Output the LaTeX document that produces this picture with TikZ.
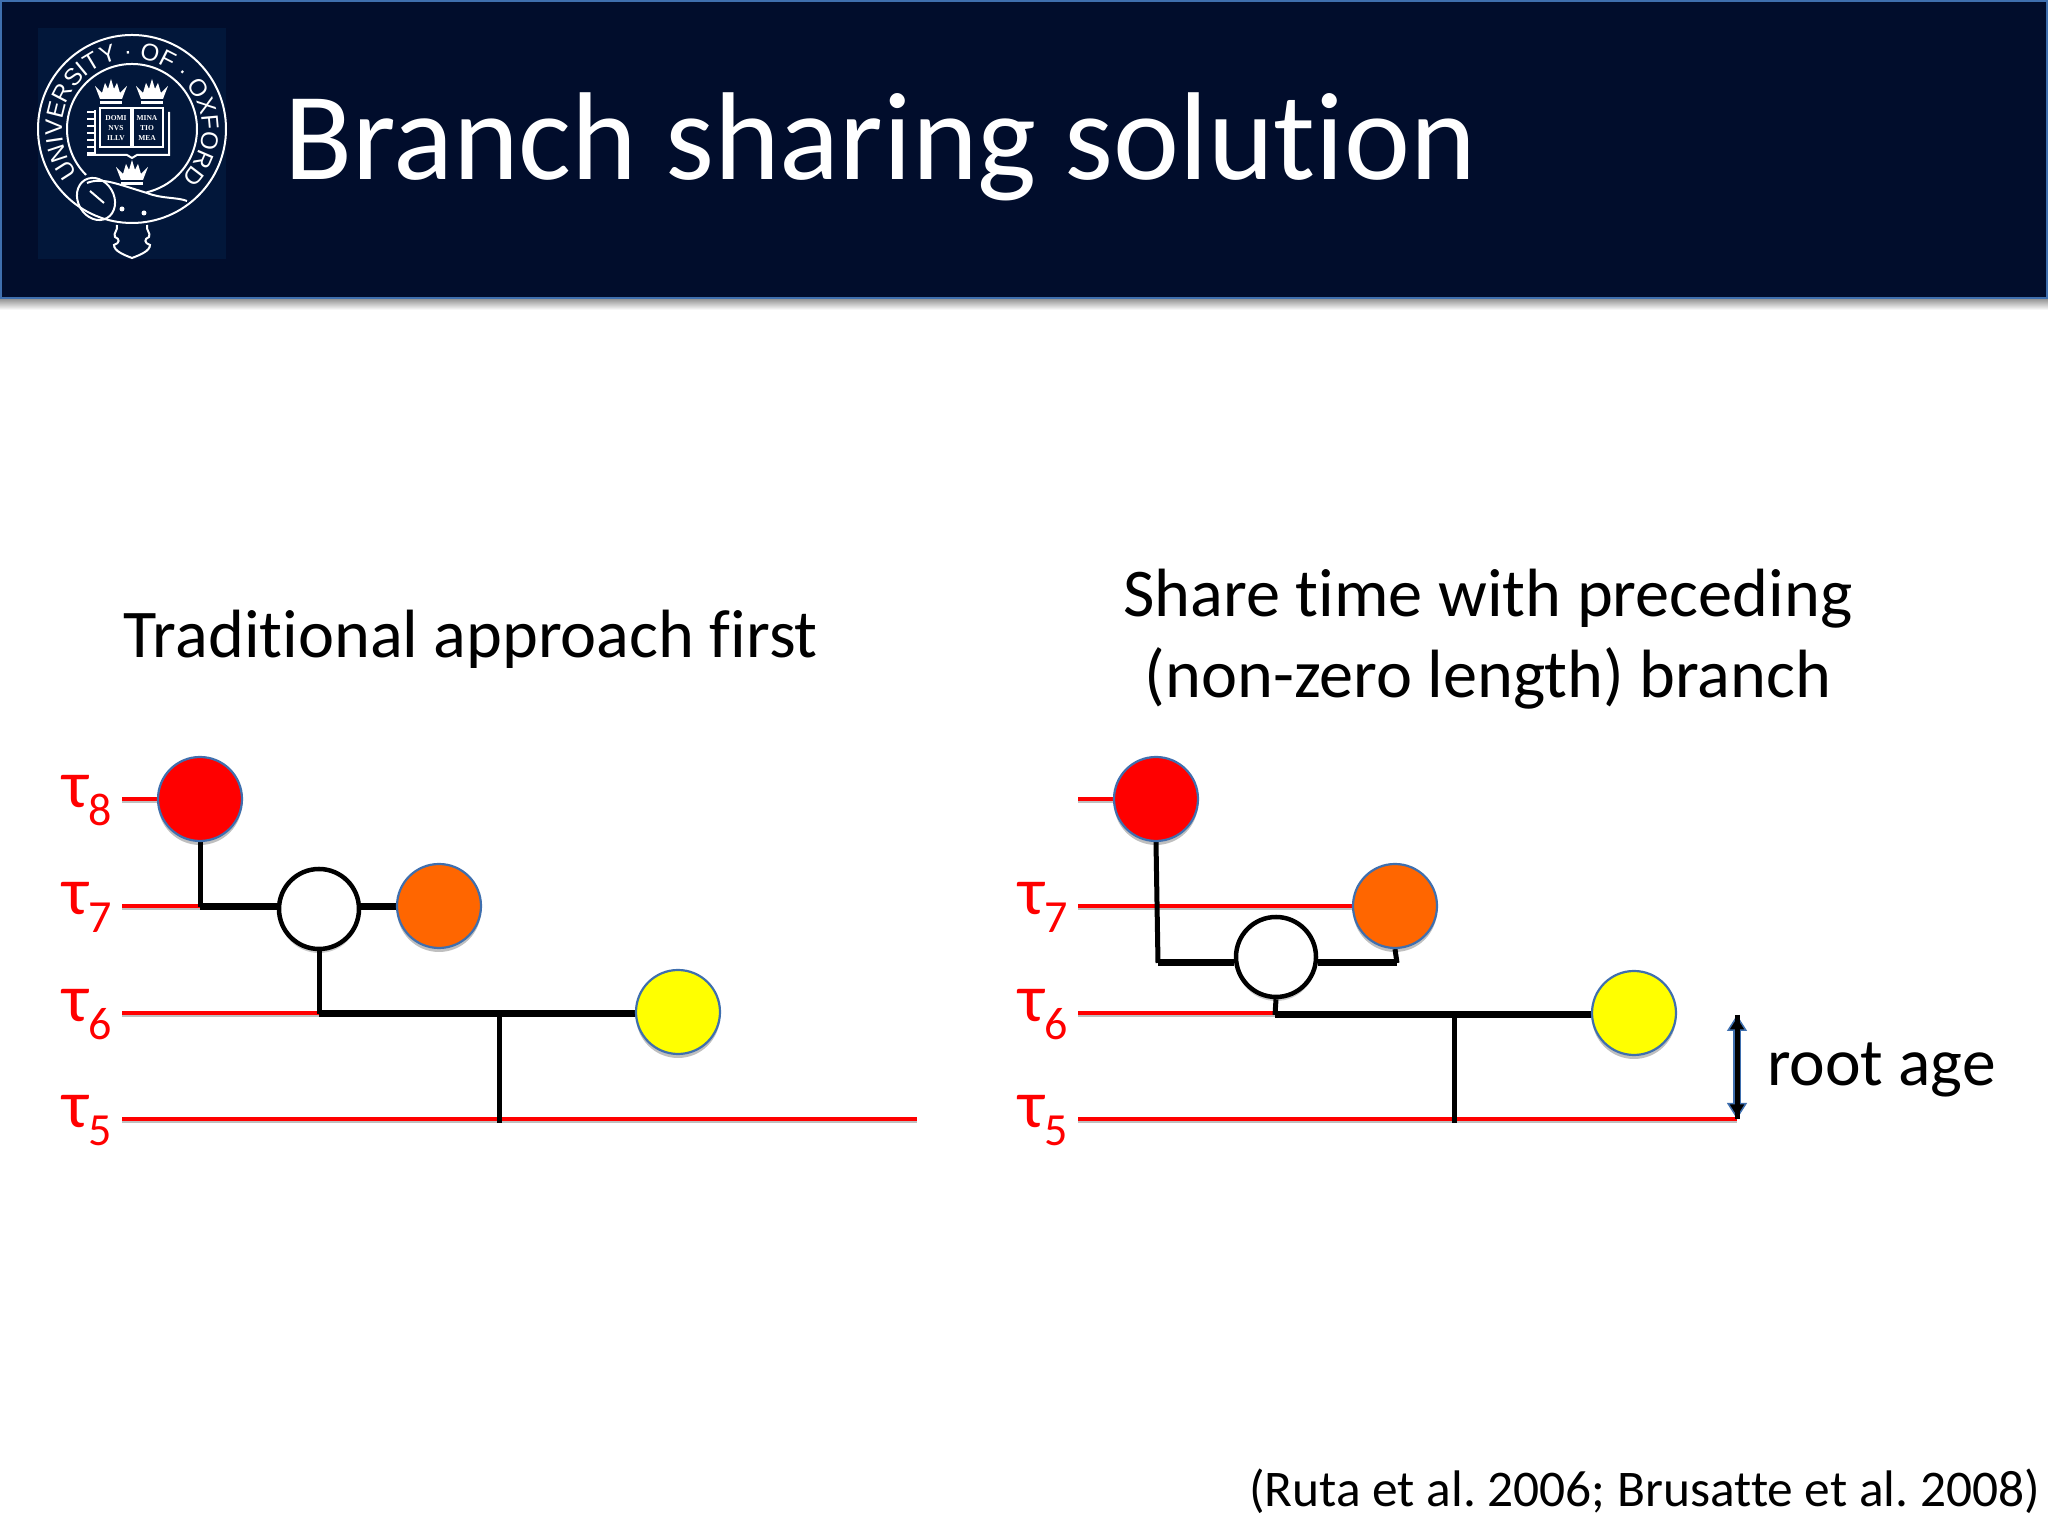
\documentclass[tikz,border=0pt]{standalone}
\usepackage{fontspec}
\setmainfont{Carlito}[RawFeature={-liga}]
\newfontfamily\logofont{Liberation Sans}
\newfontfamily\mottofont{Liberation Serif}
\usetikzlibrary{arrows.meta,backgrounds,shadows,decorations.text}
\definecolor{navy}{HTML}{010D2C}
\definecolor{logoblue}{HTML}{02173A}
\definecolor{rimblue}{HTML}{3F6FAE}
\definecolor{tauorange}{HTML}{FF6600}
\definecolor{tauyellow}{RGB}{255,255,0}
\newcommand{\fs}[1]{\fontsize{#1}{#1}\selectfont}
\newcommand{\taulab}[1]{τ\raisebox{-18pt}{\fs{46}#1}}
\tikzset{crown/.pic={
  \fill[white] (-16,6) -- (-9,-1) -- (-6,9) -- (-3,3) -- (0,13) -- (3,3) -- (6,9) -- (9,-1) -- (16,6) -- (11,-7) -- (-11,-7) -- cycle;
  \fill[white] (-11,-9) rectangle (11,-12);
}}

\begin{document}
\frenchspacing
\begin{tikzpicture}[x=1pt,y=1pt,
    tip/.style={circle,draw=rimblue,line width=2.2pt,minimum size=84pt,inner sep=0pt,
      drop shadow={shadow xshift=0pt,shadow yshift=-4pt,opacity=.25,fill=black}},
    anc/.style={circle,draw=black,line width=4.5pt,fill=white,minimum size=80pt,inner sep=0pt,
      drop shadow={shadow xshift=0pt,shadow yshift=-4pt,opacity=.2,fill=black}},
    time/.style={draw=red,line width=3.2pt,preaction={draw=black!25,line width=3pt,transform canvas={yshift=-3pt}}},
    stem/.style={draw=black,line width=5pt},
    limb/.style={draw=black,line width=7pt},
    tau/.style={red,font=\fs{68},inner sep=0pt,anchor=base east},
    head/.style={font=\fs{68.3},inner sep=0pt,align=center},
    seal/.style={white,line width=2pt},
    motto/.style={white,inner sep=0pt,font=\mottofont\bfseries\fs{7.5}}]
  \useasboundingbox (0,0) rectangle (2048,1536);

  % banner
  \shade[top color=black!45,bottom color=white] (0,1226) rectangle (2048,1238);
  \draw[fill=navy,draw=rimblue,line width=2.5pt] (1,1238) rectangle (2047,1535);
  \node[white,font=\fs{125},inner sep=0pt,anchor=base west] (title) at (284,1356) {Branch sharing solution};

  % seal
  \begin{scope}[shift={(132,1407)}]
    \fill[logoblue] (-94,-130) rectangle (94,101);
    \draw[seal] (0,0) circle (94);
    \draw[seal] (225:65) arc (225:-77:65);
    \path[decorate,decoration={text along path,text color=white,text align={center},
      text={|\logofont\fs{24}|UNIVERSITY · OF · OXFORD}}] (218:70) arc (218:-43:70);
    \pic at (-21,37) {crown};
    \pic at (20,37) {crown};
    \pic at (0,-44) {crown};
    \draw[seal] (-32,21) rectangle (-1,-18);
    \draw[seal] (1,21) rectangle (31,-18);
    \draw[seal] (-45,-26) -- (-5,-26) -- (0,-29) -- (5,-26) -- (37,-26) -- (37,17);
    \foreach \yy in {17,10,3,-4,-11,-18,-24}
      \draw[seal] (-45,\yy) -- (-36,\yy);
    \draw[seal] (-37,19) -- (-37,-26);
    \node[motto] (m1) at (-16,11) {DOMI};
    \node[motto] (m2) at (-16,1) {NVS};
    \node[motto] (m3) at (-16,-9) {ILLV};
    \node[motto] (m4) at (15,11) {MINA};
    \node[motto] (m5) at (15,1) {TIO};
    \node[motto] (m6) at (15,-9) {MEA};
    \draw[seal] (-45,-54) .. controls (-30,-48) and (-15,-55) .. (15,-64) .. controls (30,-70) and (45,-68) .. (55,-72);
    \draw[seal,rotate around={30:(-36,-70)}] (-36,-70) ellipse (18 and 22);
    \draw[seal] (-42,-62) -- (-28,-74);
    \fill[white] (-10,-80) circle (2.5);
    \fill[white] (12,-84) circle (2.5);
    \draw[seal] (-15,-96) .. controls (-14,-102) and (-19,-104) .. (-17,-108) .. controls (-12,-110) and (-12,-114) .. (-18,-116) .. controls (-18,-122) and (-8,-126) .. (0,-129)
      .. controls (8,-126) and (18,-122) .. (18,-116) .. controls (12,-114) and (12,-110) .. (17,-108) .. controls (19,-104) and (14,-102) .. (15,-96);
  \end{scope}

  % headings
  \node[head,anchor=base] (trad) at (471,878) {Traditional approach first};
  \node[head] (share) at (1488,897) {Share time with preceding\\[13pt](non-zero length) branch};
  \node[font=\fs{51.4},inner sep=0pt,anchor=base east] (cite) at (2040,29) {(Ruta et al. 2006; Brusatte et al. 2008)};

  % left tree
  \coordinate (la8) at (122,737);
  \coordinate (la7) at (122,630);
  \coordinate (la6) at (122,523);
  \coordinate (la5) at (122,417);
  \coordinate (lb5) at (917,417);
  \node[tau] (ltau8) at (112,728) {\taulab{8}};
  \node[tau] (ltau7) at (112,621) {\taulab{7}};
  \node[tau] (ltau6) at (112,514) {\taulab{6}};
  \node[tau] (ltau5) at (112,408) {\taulab{5}};
  \node[tip,fill=red] (lred) at (200,737) {};
  \node[anc] (lanc) at (319,627) {};
  \node[tip,fill=tauorange] (lorange) at (439,630) {};
  \node[tip,fill=tauyellow] (lyellow) at (678,524) {};
  \coordinate (lmid) at (200,629);
  \coordinate (lelbow) at (319,522);
  \coordinate (ljoin) at (499,522);
  \coordinate (lfoot) at (499,413);
  \begin{scope}[on background layer]
    \draw[time] (la8) -- (lred.west);
    \draw[time] (la7) -- (la7 -| lanc.west);
    \draw[time] (la6) -- (lanc |- la6);
    \draw[time] (la5) -- (lb5);
    \draw[stem] (lred.south) -- (lmid);
    \draw[limb] (lmid) -- (lmid -| lanc.west);
    \draw[limb] (lmid -| lanc.east) -- (lmid -| lorange.west);
    \draw[stem] (lanc.south) -- (lelbow);
    \draw[limb] (lelbow) -- (lelbow -| lyellow.west);
    \draw[stem] (ljoin) -- (lfoot);
  \end{scope}

  % right tree
  \coordinate (ra8) at (1078,737);
  \coordinate (ra7) at (1078,630);
  \coordinate (ra6) at (1078,523);
  \coordinate (ra5) at (1078,417);
  \coordinate (rb5) at (1737,417);
  \coordinate (rtop) at (1737,521);
  \coordinate (rbot) at (1737,417);
  \node[tau] (rtau7) at (1068,621) {\taulab{7}};
  \node[tau] (rtau6) at (1068,514) {\taulab{6}};
  \node[tau] (rtau5) at (1068,408) {\taulab{5}};
  \node[tip,fill=red] (rred) at (1156,737) {};
  \node[tip,fill=tauorange] (rorange) at (1395,630) {};
  \node[anc] (ranc) at (1276,579) {};
  \node[tip,fill=tauyellow] (ryellow) at (1634,523) {};
  \coordinate (rleft) at (1158,573);
  \coordinate (rright) at (1397,573);
  \coordinate (relbow) at (1275,521);
  \coordinate (rjoin) at (1454,521);
  \coordinate (rfoot) at (1454,413);
  \begin{scope}[on background layer]
    \draw[time] (ra8) -- (rred.west);
    \draw[time] (ra7) -- (rorange.west);
    \draw[time] (ra6) -- (ranc |- ra6);
    \draw[time] (ra5) -- (rb5);
    \draw[stem] (rred.south) -- (rleft);
    \draw[limb] (rleft) -- (rleft -| ranc.west);
    \draw[limb] (rright -| ranc.east) -- (rright);
    \draw[stem] (rright) -- (rorange.south);
    \draw[stem] (ranc.south) -- (relbow);
    \draw[limb] (relbow) -- (relbow -| ryellow.west);
    \draw[stem] (rjoin) -- (rfoot);
  \end{scope}
  \draw[draw=rimblue,line width=8pt,{Triangle[length=16pt,width=20pt,fill=black,line width=1.5pt]}-{Triangle[length=16pt,width=20pt,fill=black,line width=1.5pt]},
    postaction={draw=black,line width=5pt,-}] (rtop) -- (rbot);
  \node[font=\fs{67.5},inner sep=0pt,anchor=base west] (rootage) at (1767,450) {root age};
\end{tikzpicture}
\end{document}
